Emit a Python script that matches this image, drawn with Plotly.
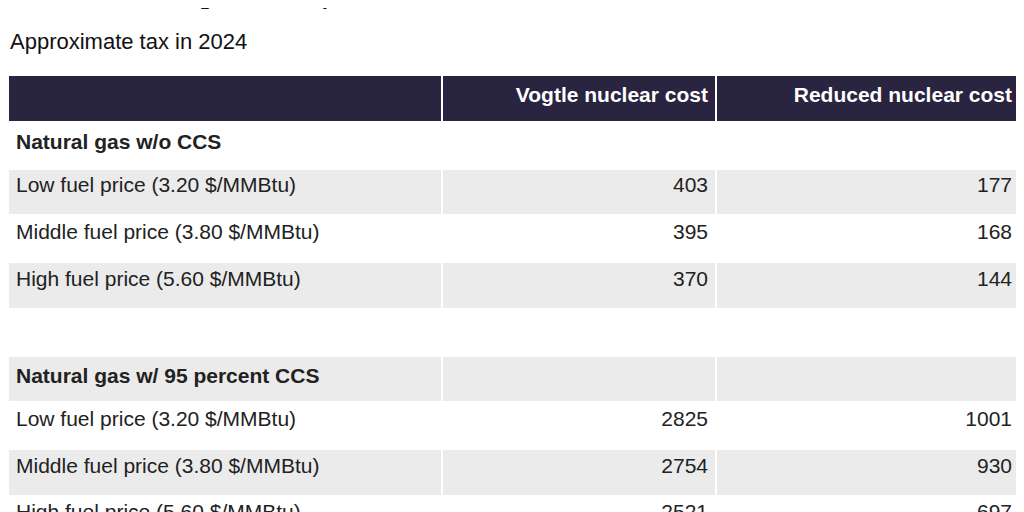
import plotly.graph_objects as go

headers = ["", "<b>Vogtle nuclear cost</b>", "<b>Reduced nuclear cost</b>"]
labels = ["<b>Natural gas w/o CCS</b>", "Low fuel price (3.20 $/MMBtu)", "Middle fuel price (3.80 $/MMBtu)",
          "High fuel price (5.60 $/MMBtu)", "", "<b>Natural gas w/ 95 percent CCS</b>",
          "Low fuel price (3.20 $/MMBtu)", "Middle fuel price (3.80 $/MMBtu)", "High fuel price (5.60 $/MMBtu)"]
vogtle = ["", "403", "395", "370", "", "", "2825", "2754", "2521"]
reduced = ["", "177", "168", "144", "", "", "1001", "930", "697"]
row_fill = ["white", "#ebebeb", "white", "#ebebeb", "white", "#ebebeb", "white", "#ebebeb", "white"]

W, H = 1016, 504
FONT = "Liberation Sans, Arial"
fig = go.Figure(go.Table(
    domain=dict(x=[0, 1012 / W], y=[0, 1 - 67 / H]),
    columnwidth=[434, 274, 304],
    header=dict(values=headers, fill_color="#29243f", line=dict(color="white", width=2),
                align=["left", "right", "right"], height=47,
                font=dict(family=FONT, size=21, color="white")),
    cells=dict(values=[labels, vogtle, reduced], fill_color=[row_fill] * 3,
               line=dict(color="white", width=2), align=["left", "right", "right"], height=46.7,
               font=dict(family=FONT, size=21, color="#222222")),
))
fig.add_annotation(text="<b>$/metric ton of CO<sub>2</sub> emissions)</b>", x=0, y=1 + 10 / H,
                   xref="paper", yref="paper", xanchor="left", yanchor="middle", showarrow=False,
                   font=dict(family=FONT, size=22, color="#111111"))
fig.add_annotation(text="Approximate tax in 2024", x=0, y=1 - 34 / H,
                   xref="paper", yref="paper", xanchor="left", yanchor="middle", showarrow=False,
                   font=dict(family=FONT, size=22, color="#111111"))
fig.update_layout(width=W, height=H, margin=dict(l=0, r=0, t=0, b=0), paper_bgcolor="white")
fig.write_html("out.html")
